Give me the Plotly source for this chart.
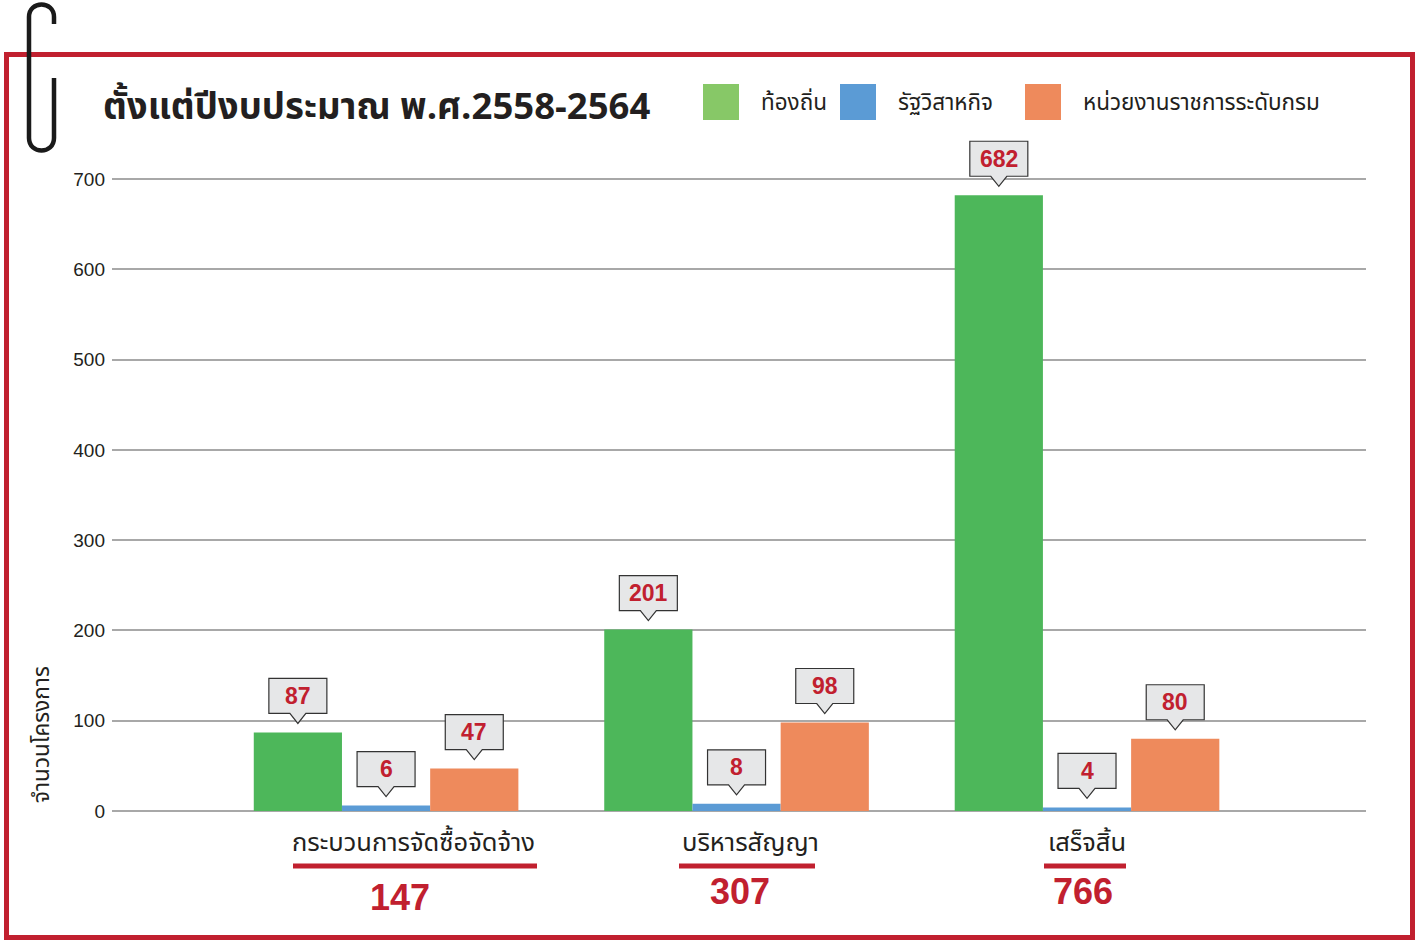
import plotly.graph_objects as go

# ---------------- data ----------------
categories = ["กระบวนการจัดซื้อจัดจ้าง", "บริหารสัญญา", "เสร็จสิ้น"]
totals = [147, 307, 766]
series_names = ["ท้องถิ่น", "รัฐวิสาหกิจ", "หน่วยงานราชการระดับกรม"]
local_vals = [87, 201, 682]
soe_vals = [6, 8, 4]
dept_vals = [47, 98, 80]
y_ticks = [0, 100, 200, 300, 400, 500, 600, 700]
title_text = "ตั้งแต่ปีงบประมาณ พ.ศ.2558-2564"
y_title = "จำนวนโครงการ"

# ---------------- style / layout ----------------
W, H = 1421, 940
L, R, T, B = 112, 55, 174, 129
PW, PH = W - L - R, H - T - B
XR = [-0.782, 2.796]
YR = [0, 637 / (632 / 700)]
BARGAP = 0.245
THAI = "Noto Sans Thai, Loma, Garuda, Tlwg Typo, DejaVu Sans, Liberation Sans, sans-serif"
NUM = "Liberation Sans, Arial, sans-serif"
RED = "#C1202F"
DARK = "#231F20"
bar_colors = ["#4DB75A", "#5B9BD5", "#EE8A5C"]
legend_colors = ["#87C867", "#5B9BD5", "#EE8A5C"]


def pxx(x):
    return (x - L) / PW


def pxy(y):
    return (H - B - y) / PH


def xdata_to_paper(x):
    return (x - XR[0]) / (XR[1] - XR[0])


def ydata_to_paper(y):
    return (y - YR[0]) / (YR[1] - YR[0])


series_vals = [local_vals, soe_vals, dept_vals]
x_idx = list(range(len(categories)))

fig = go.Figure()
for name, vals, col in zip(series_names, series_vals, bar_colors):
    fig.add_trace(go.Bar(x=x_idx, y=vals, name=name, marker=dict(color=col, line=dict(width=0)),
                         hoverinfo="skip", showlegend=False))

shapes = []
annotations = []

# callout boxes above each bar
bw = (1 - BARGAP) / len(series_vals)
callout_path = "M -29,19 L -8,19 L 0,9 L 8,19 L 29,19 L 29,54 L -29,54 Z"
for j, vals in enumerate(series_vals):
    off = (j - (len(series_vals) - 1) / 2) * bw
    for i, v in enumerate(vals):
        xc = x_idx[i] + off
        shapes.append(dict(type="path", xref="paper", yref="paper", xsizemode="pixel", ysizemode="pixel",
                           xanchor=xdata_to_paper(xc), yanchor=ydata_to_paper(v), path=callout_path,
                           fillcolor="#E6E7E8", line=dict(color="#333333", width=1.2), layer="above"))
        annotations.append(dict(x=xc, y=v, xref="x", yref="y", text=f"<b>{v}</b>", showarrow=False,
                                yshift=36.5, yanchor="middle",
                                font=dict(family=NUM, size=23, color=RED)))

# category labels, underline and totals
label_shift = [27, 14, 0]
underline_px = [(293, 537), (679, 815), (1044, 1126)]
total_shift = [14, 3, -4]
total_y = [897, 891, 891]
for i, (cat, tot) in enumerate(zip(categories, totals)):
    annotations.append(dict(x=x_idx[i], y=pxy(843), xref="x", yref="paper", text=cat, showarrow=False,
                            xshift=label_shift[i], yanchor="middle",
                            font=dict(family=THAI, size=25.5, color=DARK)))
    x0, x1 = underline_px[i]
    shapes.append(dict(type="line", xref="paper", yref="paper", x0=pxx(x0), x1=pxx(x1),
                       y0=pxy(866), y1=pxy(866), line=dict(color=RED, width=5)))
    annotations.append(dict(x=x_idx[i], y=pxy(total_y[i]), xref="x", yref="paper", text=f"<b>{tot}</b>",
                            showarrow=False, xshift=total_shift[i], yanchor="middle",
                            font=dict(family=NUM, size=36, color=RED)))

# title
annotations.append(dict(x=pxx(101), y=pxy(108), xref="paper", yref="paper", text=f"<b>{title_text}</b>",
                        showarrow=False, xanchor="left", yanchor="middle",
                        font=dict(family=THAI, size=36.5, color=DARK)))

# y-axis title
annotations.append(dict(x=pxx(42), y=pxy(735), xref="paper", yref="paper", text=y_title, textangle=-90,
                        showarrow=False, xanchor="center", yanchor="middle",
                        font=dict(family=THAI, size=22.5, color=DARK)))

# custom legend
leg_sq = [703, 840, 1025]
leg_tx = [759, 896, 1081]
for name, col, sx, tx in zip(series_names, legend_colors, leg_sq, leg_tx):
    shapes.append(dict(type="rect", xref="paper", yref="paper", x0=pxx(sx), x1=pxx(sx + 36),
                       y0=pxy(120), y1=pxy(84), fillcolor=col, line=dict(width=0)))
    annotations.append(dict(x=pxx(tx), y=pxy(103), xref="paper", yref="paper", text=name, showarrow=False,
                            xanchor="left", yanchor="middle", font=dict(family=THAI, size=22.5, color=DARK)))

# red frame
shapes.append(dict(type="rect", xref="paper", yref="paper", x0=pxx(6.5), x1=pxx(1412.5),
                   y0=pxy(937.5), y1=pxy(54.5), line=dict(color=RED, width=5), fillcolor="rgba(0,0,0,0)"))

# paper clip
pts = [("M", [(54, 24)]), ("L", [(54, 17)]), ("C", [(54, 0.3), (29, 0.3), (29, 17)]),
       ("L", [(29, 138)]), ("C", [(29, 154.7), (54, 154.7), (54, 138)]), ("L", [(54, 78)])]
clip_path = " ".join(cmd + " " + " ".join(f"{pxx(a):.5f},{pxy(b):.5f}" for a, b in p) for cmd, p in pts)
shapes.append(dict(type="path", xref="paper", yref="paper", path=clip_path,
                   line=dict(color="#1A1A1A", width=4.5)))

fig.update_layout(
    width=W, height=H,
    margin=dict(l=L, r=R, t=T, b=B),
    paper_bgcolor="white", plot_bgcolor="white",
    barmode="group", bargap=BARGAP, bargroupgap=0,
    showlegend=False,
    shapes=shapes, annotations=annotations,
    xaxis=dict(range=XR, showticklabels=False, showgrid=False, zeroline=False, showline=False, fixedrange=True),
    yaxis=dict(range=YR, tickvals=y_ticks, showgrid=True, gridcolor="#A8A8A8", gridwidth=2,
               zeroline=True, zerolinecolor="#A8A8A8", zerolinewidth=2, showline=False,
               ticks="", ticklabelstandoff=6,
               tickfont=dict(family=NUM, size=19, color=DARK)),
)

fig.write_html("out.html", config={"displayModeBar": False},
               post_script="document.body.style.margin='0';document.body.style.overflow='hidden';")
